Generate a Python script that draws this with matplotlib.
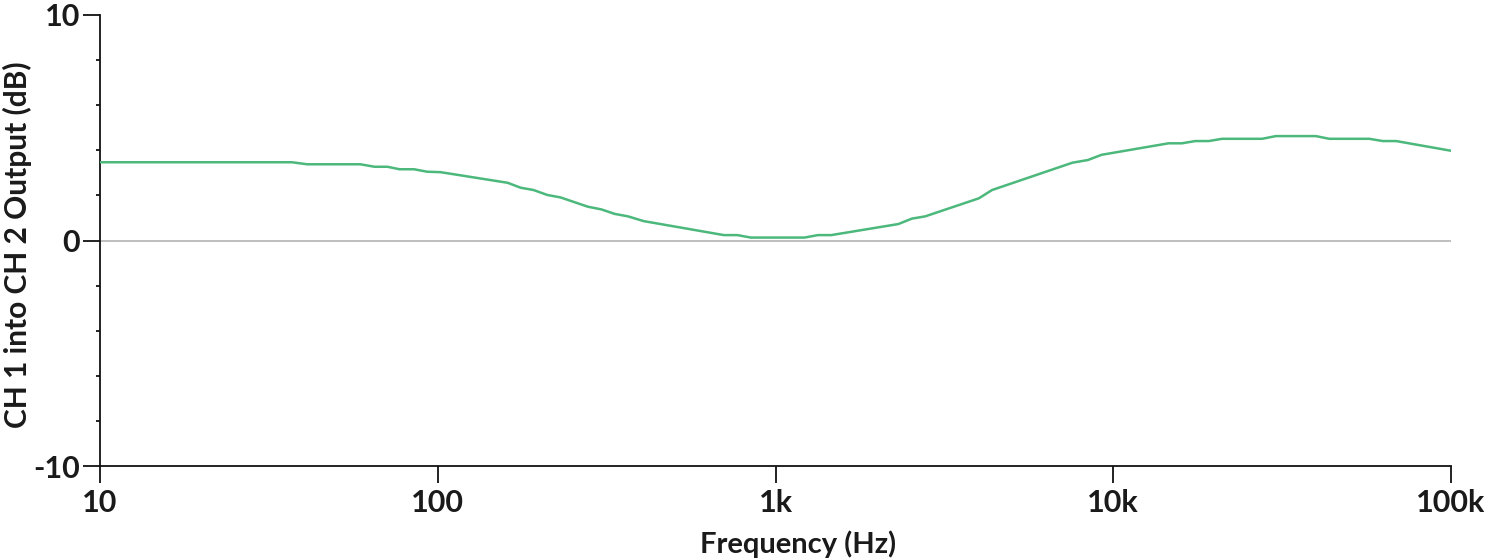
import matplotlib
matplotlib.use("Agg")
import matplotlib.pyplot as plt
from matplotlib.ticker import FixedLocator, FixedFormatter, NullLocator

plt.rcParams['font.family'] = ['Lato', 'DejaVu Sans']
plt.rcParams['axes.unicode_minus'] = False

freq_hz = [10, 37, 41, 59, 65, 71, 77, 85, 93, 102, 161, 176, 192, 211, 231,
           278, 305, 334, 366, 407, 703, 771, 845, 1219, 1336, 1463, 2311,
           2534, 2775, 4000, 4380, 7570, 8420, 9230, 14580, 15970, 17500,
           19170, 21000, 27600, 30300, 39800, 43600, 57300, 62800, 68800,
           100000]
gain_db = [3.47, 3.47, 3.38, 3.38, 3.27, 3.27, 3.16, 3.16, 3.05, 3.03, 2.56,
           2.34, 2.24, 2.02, 1.91, 1.50, 1.38, 1.18, 1.07, 0.86, 0.24, 0.24,
           0.13, 0.13, 0.24, 0.24, 0.73, 0.97, 1.07, 1.87, 2.24, 3.45, 3.57,
           3.80, 4.31, 4.31, 4.41, 4.41, 4.51, 4.51, 4.63, 4.63, 4.51, 4.51,
           4.41, 4.41, 3.98]

x_ticks = [10, 100, 1000, 10000, 100000]
x_tick_labels = ["10", "100", "1k", "10k", "100k"]
y_major = [-10, 0, 10]
y_minor = [-8, -6, -4, -2, 2, 4, 6, 8]

fig = plt.figure(figsize=(15, 5.6), dpi=100)
ax = fig.add_axes([100/1500, 1-466/560, 1351/1500, 451/560])

ax.axhline(0, color='#b3b3b3', lw=1.2, zorder=1)
ax.plot(freq_hz, gain_db, color='#4cb87c', lw=1.8, zorder=3)

ax.set_xscale('log')
ax.set_xlim(10, 100000)
ax.set_ylim(-10, 10)

ax.xaxis.set_major_locator(FixedLocator(x_ticks))
ax.xaxis.set_major_formatter(FixedFormatter(x_tick_labels))
ax.xaxis.set_minor_locator(NullLocator())
ax.yaxis.set_major_locator(FixedLocator(y_major))
ax.yaxis.set_minor_locator(FixedLocator(y_minor))

for s in ['top', 'right']:
    ax.spines[s].set_visible(False)
for s in ['left', 'bottom']:
    ax.spines[s].set_linewidth(1.3)
    ax.spines[s].set_color('#111111')

ax.tick_params(axis='both', which='major', length=12.5, width=1.3, color='#111111',
               labelsize=22, labelcolor='#1a1a1a')
ax.tick_params(axis='x', which='major', pad=4)
ax.tick_params(axis='y', which='major', pad=2)
ax.tick_params(axis='y', which='minor', length=3, width=1.3, color='#111111')
for lab in ax.get_xticklabels() + ax.get_yticklabels():
    lab.set_fontweight('bold')

ax.set_xlabel('Frequency (Hz)', fontsize=21, fontweight='bold', color='#1a1a1a')
ax.set_ylabel('CH 1 into CH 2 Output (dB)', fontsize=21.5, fontweight='bold', color='#1a1a1a')
ax.xaxis.set_label_coords(0.517, -0.143)
ax.yaxis.set_label_coords(-0.050, 0.49)

fig.savefig('out.png', dpi=100)
